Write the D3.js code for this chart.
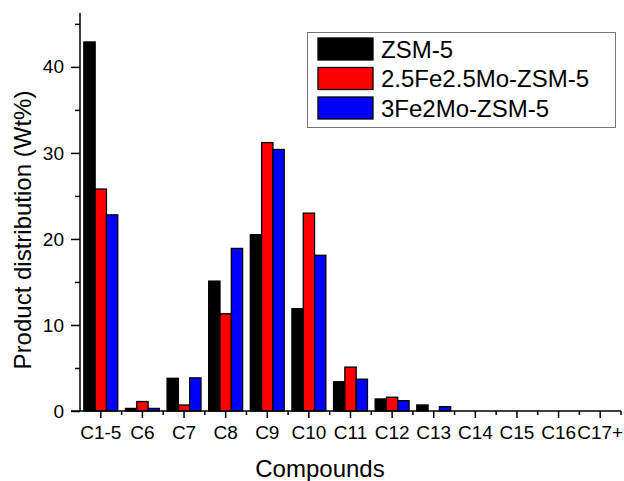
<!DOCTYPE html>
<html>
<head>
<meta charset="utf-8">
<script src="https://cdn.jsdelivr.net/npm/d3@7"></script>
<style>
  html, body { margin: 0; padding: 0; background: #fff; }
  svg { display: block; font-family: "Liberation Sans", Arial, sans-serif; }
</style>
</head>
<body>
<svg id="chart" width="624" height="481"></svg>
<script>
// Product distribution by carbon number for three catalysts
const categories = ["C1-5", "C6", "C7", "C8", "C9", "C10", "C11", "C12", "C13", "C14", "C15", "C16", "C17+"];
const seriesNames = ["ZSM-5", "2.5Fe2.5Mo-ZSM-5", "3Fe2Mo-ZSM-5"];
const seriesColors = ["#000000", "#ff0000", "#0000ff"];
const zsm5 =       [42.9, 0.3, 3.8, 15.1, 20.5, 11.9, 3.4, 1.4, 0.7, 0, 0, 0, 0];
const fe25mo25 =   [25.8, 1.1, 0.7, 11.3, 31.2, 23.0, 5.1, 1.6, 0,   0, 0, 0, 0];
const fe3mo2 =     [22.8, 0.3, 3.85, 18.9, 30.4, 18.1, 3.7, 1.2, 0.5, 0, 0, 0, 0];
const seriesValues = [zsm5, fe25mo25, fe3mo2];
const yMajorTicks = [0, 10, 20, 30, 40];
const yMinorTicks = [5, 15, 25, 35, 45];

const svg = d3.select("#chart");
const plotLeft = 80, plotRight = 621, plotTop = 12.7, plotBottom = 411;

const x = d3.scaleBand().domain(categories).range([plotLeft, plotRight]).padding(0);
const x1 = d3.scaleBand().domain(seriesNames).range([0, x.bandwidth()]).paddingInner(0).paddingOuter(0.34);
const y = d3.scaleLinear().domain([0, 46.3]).range([plotBottom, plotTop]);
const color = d3.scaleOrdinal().domain(seriesNames).range(seriesColors);

// bars
const rows = categories.map((c, i) => ({ cat: c, vals: seriesNames.map((s, k) => ({ s, v: seriesValues[k][i] })) }));
const groups = svg.append("g").selectAll("g").data(rows).join("g")
  .attr("transform", d => `translate(${x(d.cat)},0)`);
groups.selectAll("rect").data(d => d.vals.filter(e => e.v > 0)).join("rect")
  .attr("x", d => x1(d.s))
  .attr("y", d => y(d.v))
  .attr("width", x1.bandwidth())
  .attr("height", d => y(0) - y(d.v))
  .attr("fill", d => color(d.s))
  .attr("stroke", "#000")
  .attr("stroke-width", 1.3);

// y axis
const yAxis = svg.append("g").attr("transform", `translate(${plotLeft},0)`)
  .call(d3.axisLeft(y).tickValues(yMajorTicks).tickSize(9).tickPadding(7).tickFormat(d3.format("d")));
yAxis.select(".domain").remove();
svg.append("g").attr("transform", `translate(${plotLeft},0)`)
  .call(d3.axisLeft(y).tickValues(yMinorTicks).tickSize(5).tickFormat(""))
  .select(".domain").remove();
svg.append("line").attr("x1", plotLeft).attr("x2", plotLeft).attr("y1", plotTop).attr("y2", plotBottom)
  .attr("stroke", "#000").attr("stroke-width", 1.5);
yAxis.selectAll("text").attr("font-size", 19).attr("fill", "#000");
svg.selectAll("g.tick line").attr("stroke", "#000").attr("stroke-width", 1.5);

// x axis
const xAxis = svg.append("g").attr("transform", `translate(0,${plotBottom})`)
  .call(d3.axisBottom(x).tickSize(7).tickPadding(8));
xAxis.select(".domain").remove();
xAxis.selectAll("text").attr("font-size", 19).attr("fill", "#000");
xAxis.selectAll("line").attr("stroke", "#000").attr("stroke-width", 1.5);
const bounds = categories.slice(1).map(c => x(c)).concat([plotRight]);
svg.append("g").selectAll("line").data(bounds).join("line")
  .attr("x1", d => d).attr("x2", d => d).attr("y1", plotBottom).attr("y2", plotBottom + 4)
  .attr("stroke", "#000").attr("stroke-width", 1.5);
svg.append("line").attr("x1", plotLeft - 9).attr("x2", plotRight).attr("y1", plotBottom).attr("y2", plotBottom)
  .attr("stroke", "#000").attr("stroke-width", 1.5);

// axis titles
svg.append("text").attr("x", 320).attr("y", 477)
  .attr("text-anchor", "middle").attr("font-size", 24).text("Compounds");
svg.append("text").attr("transform", "translate(31,230) rotate(-90)")
  .attr("text-anchor", "middle").attr("font-size", 24).text("Product distribution (Wt%)");

// legend
const legend = svg.append("g");
legend.append("rect").attr("x", 307.5).attr("y", 32.5).attr("width", 308).attr("height", 95)
  .attr("fill", "#fff").attr("stroke", "#777").attr("stroke-width", 1);
const items = legend.selectAll("g.item").data(seriesNames).join("g")
  .attr("transform", (d, i) => `translate(318,${38 + i * 29.5})`);
items.append("rect").attr("width", 55).attr("height", 22)
  .attr("fill", d => color(d)).attr("stroke", "#000").attr("stroke-width", 1.3);
items.append("text").attr("x", 63).attr("y", 19.5).attr("font-size", 24).text(d => d);
</script>
</body>
</html>
